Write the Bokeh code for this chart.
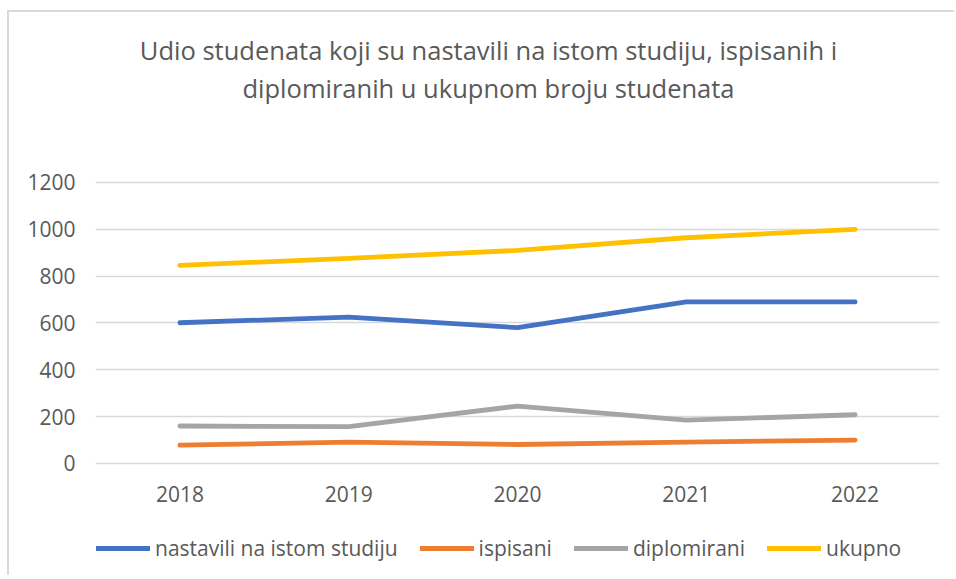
from bokeh.plotting import figure
from bokeh.models import Legend, LegendItem, Label, FixedTicker
from bokeh.embed import file_html
from bokeh.resources import INLINE

years = ["2018", "2019", "2020", "2021", "2022"]
nastavili = [601, 625, 580, 690, 690]
ispisani = [78, 91, 81, 91, 100]
diplomirani = [160, 157, 245, 185, 208]
ukupno = [846, 876, 910, 964, 1000]

series_names = ["nastavili na istom studiju", "ispisani", "diplomirani", "ukupno"]
series_values = [nastavili, ispisani, diplomirani, ukupno]
series_colors = ["#4472C4", "#ED7D31", "#A5A5A5", "#FFC000"]
y_ticks = [0, 200, 400, 600, 800, 1000, 1200]
title_lines = ["Udio studenata koji su nastavili na istom studiju, ispisanih i",
               "diplomiranih u ukupnom broju studenata"]

FONT = "Open Sans"
TXT = "#595959"

# frame spans the whole height; the visible value band 0..1200 sits in the middle
p = figure(x_range=years, y_range=(-487, 1926), width=947, height=565,
           output_backend="svg", toolbar_location=None,
           min_border_left=86, min_border_right=17, min_border_top=0,
           min_border_bottom=0)
p.styles = {"border-left": "2px solid #d9d9d9", "border-top": "2px solid #d9d9d9",
            "margin-top": "10px", "margin-left": "7px"}
p.outline_line_color = None
p.background_fill_color = "white"
p.border_fill_color = "white"

p.xgrid.grid_line_color = None
p.ygrid.grid_line_color = "#d9d9d9"
p.ygrid.grid_line_width = 1.5
p.yaxis.ticker = FixedTicker(ticks=y_ticks)

for ax in (p.xaxis, p.yaxis):
    ax.axis_line_color = None
    ax.major_tick_line_color = None
    ax.minor_tick_line_color = None
    ax.major_tick_out = 0
    ax.major_tick_in = 0
    ax.major_label_text_color = TXT
    ax.major_label_text_font = FONT
    ax.major_label_text_font_size = "21px"
p.yaxis.major_label_standoff = 20
p.xaxis.fixed_location = 0
p.xaxis.major_label_standoff = 23

items = []
for name, vals, col in zip(series_names, series_values, series_colors):
    r = p.line(years, vals, line_color=col, line_width=4.8, line_cap="round",
               line_join="round")
    items.append(LegendItem(label=name, renderers=[r]))

legend = Legend(items=items, orientation="horizontal", location=(1, 15),
                glyph_width=54, glyph_height=20, label_standoff=5, spacing=22,
                padding=0, margin=0, border_line_color=None,
                background_fill_alpha=0,
                label_text_font=FONT, label_text_font_size="21px",
                label_text_color=TXT)
p.add_layout(legend, "center")

for line, yoff in zip(title_lines, [528, 490]):
    p.add_layout(Label(x=393, y=yoff, x_units="screen", y_units="screen",
                       text=line, text_align="center", text_baseline="middle",
                       text_font=FONT, text_font_size="25.5px", text_color=TXT))

open("out.html", "w").write(file_html(p, INLINE))
